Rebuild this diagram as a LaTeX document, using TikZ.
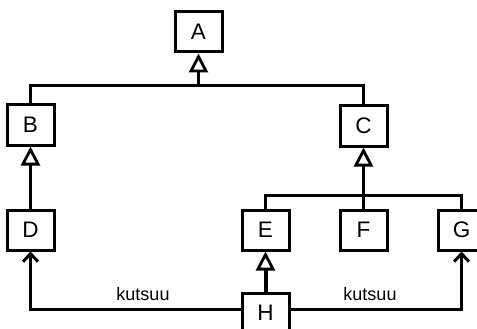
\documentclass[tikz,border=0pt]{standalone}
\usepackage{fontspec}
\setmainfont{Liberation Sans}
\usetikzlibrary{arrows.meta}
\begin{document}
\begin{tikzpicture}[x=1pt,y=-1pt,
  box/.style={draw, line width=3pt, minimum width=47pt, minimum height=40pt, inner sep=0pt, font=\fontsize{22.5}{26}\selectfont},
  conn/.style={line width=3pt},
  inh/.style={conn, -{Triangle[open, length=19pt, width=19pt, line width=2.8pt]}},
  call/.style={conn, -{Straight Barb[length=8pt, width=15pt, line width=3pt]}},
  lbl/.style={font=\fontsize{18}{22}\selectfont, inner sep=0pt}]
\clip (0,0) rectangle (477,329);
\useasboundingbox (0,0) rectangle (477,329);
\node[box] (A) at (198.5,32) {A};
\node[box] (B) at (30.5,125) {B};
\node[box] (C) at (363.5,126) {C};
\node[box] (D) at (30.5,230) {D};
\node[box] (E) at (265.5,230) {E};
\node[box] (F) at (363.5,230) {F};
\node[box] (G) at (461.5,230) {G};
\node[box] (H) at (265.5,313) {H};
\coordinate (ja) at (198.5,86);
\coordinate (jc) at (363.5,195);
\draw[conn] (B.north) |- (ja) -| (C.north);
\draw[inh] (ja) -- (A.south);
\draw[inh] (D.north) -- (B.south);
\draw[conn] (E.north) |- (jc) -| (G.north);
\draw[conn] (F.north) -- (jc);
\draw[inh] (jc) -- (C.south);
\draw[inh, line width=4pt] (H.north) -- (E.south);
\draw[call] ([yshift=4pt]H.west) -| (D.south);
\draw[call] ([yshift=4pt]H.east) -| (G.south);
\node[lbl] (k1) at (143,294) {kutsuu};
\node[lbl] (k2) at (370,294) {kutsuu};
\end{tikzpicture}
\end{document}
